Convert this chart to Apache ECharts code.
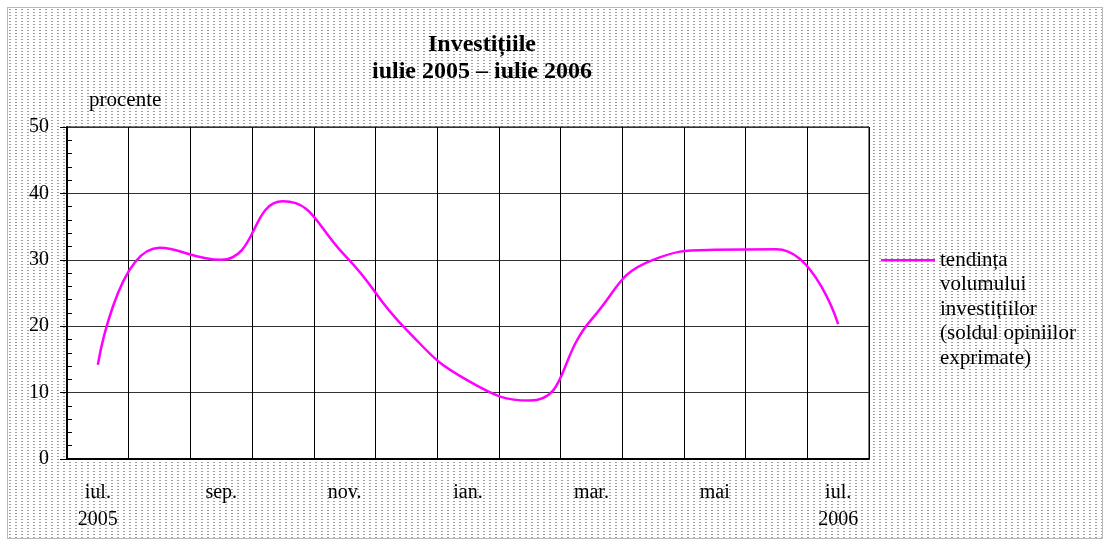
<!DOCTYPE html>
<html>
<head>
<meta charset="utf-8">
<script src="https://cdn.jsdelivr.net/npm/echarts@6/dist/echarts.min.js"></script>
<style>
  html, body { margin: 0; padding: 0; background: #fff; }
  #frame {
    position: absolute; left: 7px; top: 7px; width: 1096px; height: 532px;
    border: 1px solid #b8b8b8; box-sizing: border-box;
    background-image: url("data:image/svg+xml;utf8,<svg xmlns='http://www.w3.org/2000/svg' width='6' height='3'><rect x='1' y='1' width='2' height='1' fill='%23a0a0a0'/></svg>");
  }
  #chart { position: absolute; left: 0; top: 0; width: 1110px; height: 546px; }
</style>
</head>
<body>
<div id="frame"></div>
<div id="chart"></div>
<script>
const categories = ['iul.\n2005', 'aug.', 'sep.', 'oct.', 'nov.', 'dec.', 'ian.', 'feb.', 'mar.', 'apr.', 'mai', 'iun.', 'iul.\n2006'];
const investitii = [14.2, 31.8, 30.0, 38.8, 30.7, 19.5, 11.8, 8.8, 21.0, 30.0, 31.5, 31.6, 20.3];
const seriesName = 'tendința volumului investițiilor (soldul opiniilor exprimate)';
const legendLines = ['tendința', 'volumului', 'investițiilor', '(soldul opiniilor', 'exprimate)'];
const titleText = 'Investițiile\niulie 2005 – iulie 2006';
const yUnit = 'procente';

const FONT = '"Liberation Serif", "Times New Roman", serif';
// pad with blank lines above so the legend line sits beside the first text line
const legendText = legendLines.map(() => ' ').slice(1).join('\n') + '\n' + legendLines.join('\n');

const chart = echarts.init(document.getElementById('chart'), null, { renderer: 'canvas' });
chart.setOption({
  backgroundColor: 'transparent',
  animation: false,
  title: {
    text: titleText,
    left: 477, top: 26, textAlign: 'center',
    textStyle: { fontFamily: FONT, fontWeight: 'bold', fontSize: 24, lineHeight: 27, color: '#000' }
  },
  legend: {
    left: 881, top: 150, orient: 'vertical', padding: 0,
    icon: 'rect', itemWidth: 54, itemHeight: 2.5, itemGap: 0,
    formatter: () => legendText,
    textStyle: { fontFamily: FONT, fontSize: 21, lineHeight: 24.5, color: '#000' },
    data: [seriesName]
  },
  grid: {
    left: 67, top: 127, right: 241, bottom: 87,
    show: true, backgroundColor: '#fff', borderColor: '#000', borderWidth: 1, containLabel: false
  },
  xAxis: {
    type: 'category', data: categories, boundaryGap: true,
    axisLine: { lineStyle: { color: '#000', width: 2 } },
    axisTick: { show: false },
    axisLabel: { interval: 1, margin: 20, fontFamily: FONT, fontSize: 20, lineHeight: 27, color: '#000' },
    splitLine: { show: true, interval: 0, lineStyle: { color: '#000', width: 1 } }
  },
  yAxis: [{
    type: 'value', min: 0, max: 50, interval: 10,
    name: yUnit, nameLocation: 'end', nameGap: 16,
    nameTextStyle: { fontFamily: FONT, fontSize: 21, color: '#000', align: 'left', padding: [0, 0, 0, 22] },
    axisLine: { show: true, lineStyle: { color: '#000', width: 2 } },
    axisTick: { show: true, length: 7, lineStyle: { color: '#000' } },
    axisLabel: { margin: 18, fontFamily: FONT, fontSize: 20, color: '#000' },
    splitLine: { show: true, lineStyle: { color: '#333', width: 1 } }
  }, {
    type: 'value', min: 0, max: 50, interval: 10, position: 'right', offset: -802,
    axisLine: { show: false },
    axisTick: { show: false },
    minorTick: { show: true, splitNumber: 5, length: 5, lineStyle: { color: '#000' } },
    axisLabel: { show: false },
    splitLine: { show: false }
  }],
  series: [{
    name: seriesName, type: 'line', data: investitii, smooth: 0.5,
    symbol: 'none', yAxisIndex: 0,
    lineStyle: { color: '#ff00ff', width: 2.5 },
    itemStyle: { color: '#ff00ff' }
  }]
});
</script>
</body>
</html>
